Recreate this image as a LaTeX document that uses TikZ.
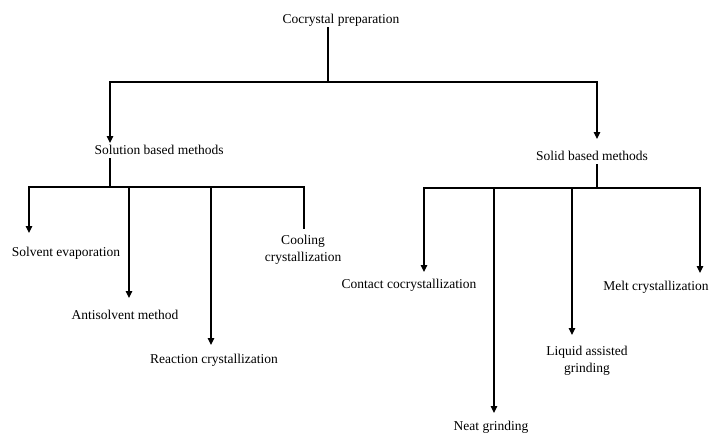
\documentclass[tikz,border=0pt]{standalone}
\usepackage{fontspec}
\setmainfont{Liberation Serif}
\usepackage{tikz}
\usetikzlibrary{arrows.meta}

\begin{document}
\begin{tikzpicture}[x=1pt,y=-1pt,
    % styles
    label/.style={font=\fontsize{13.5}{17}\selectfont,inner sep=1pt,
      text height=9pt,text depth=3pt,align=center},
    branch line/.style={line width=1.2pt},
    branch arrow/.style={line width=1.2pt,-{Triangle[width=6.5pt,length=7pt]}}]

  \useasboundingbox (0,0) rectangle (710,432);

  % text
  \node[label] (prep) at (341,20) {Cocrystal preparation};
  \node[label] (sol) at (159,151) {Solution based methods};
  \node[label] (solid) at (592,157) {Solid based methods};
  \node[label] (solv) at (66,253) {Solvent evaporation};
  \node[label] (anti) at (125,316) {Antisolvent method};
  \node[label] (reac) at (214,360) {Reaction crystallization};
  \node[label,text height=,text depth=] (cool) at (303,250) {Cooling\\crystallization};
  \node[label] (cont) at (409,285) {Contact cocrystallization};
  \node[label] (neat) at (491,427) {Neat grinding};
  \node[label,text height=,text depth=] (liq) at (587,361) {Liquid assisted\\grinding};
  \node[label] (melt) at (656,287) {Melt crystallization};

  % junctions
  \coordinate (j0) at (328,82);
  \coordinate (j1) at (110,187);
  \coordinate (j2) at (597,188);

  % ends of connectors
  \coordinate (s1) at (110,143);
  \coordinate (s2) at (597,139);
  \coordinate (t1) at (29,233);
  \coordinate (t2) at (129,298);
  \coordinate (t3) at (211,345);
  \coordinate (t4) at (304,229);
  \coordinate (t5) at (424,272);
  \coordinate (t6) at (494,413);
  \coordinate (t7) at (572,335);
  \coordinate (t8) at (700,273);

  % top level
  \draw[branch line] (prep.south -| j0) -- (j0);
  \draw[branch arrow] (j0) -| (s1);
  \draw[branch arrow] (j0) -| (s2);

  % solution based
  \draw[branch line] (sol.south -| j1) -- (j1);
  \draw[branch arrow] (j1) -| (t1);
  \draw[branch arrow] (j1 -| t2) -- (t2);
  \draw[branch arrow] (j1 -| t3) -- (t3);
  \draw[branch line] (j1) -| (t4);

  % solid based
  \draw[branch line] (solid.south -| j2) -- (j2);
  \draw[branch arrow] (j2) -| (t5);
  \draw[branch arrow] (j2 -| t6) -- (t6);
  \draw[branch arrow] (j2 -| t7) -- (t7);
  \draw[branch arrow] (j2) -| (t8);
\end{tikzpicture}
\end{document}
